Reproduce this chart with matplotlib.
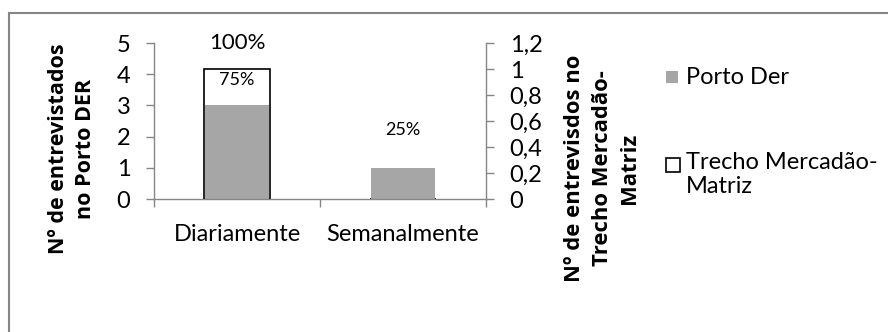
import matplotlib
matplotlib.use('Agg')
import matplotlib.pyplot as plt
from matplotlib.patches import Rectangle

plt.rcParams['font.family'] = ['Lato', 'DejaVu Sans']

# dados
categorias = ['Diariamente', 'Semanalmente']
porto_der = [3, 1]
trecho_mercadao = [1, 0]
rotulos_porto = ['75%', '25%']
rotulos_trecho = ['100%', '']
series = ['Porto Der', 'Trecho Mercadão-\nMatriz']

cinza = '#a6a6a6'
eixo = '#868686'

W, H = 888, 332
fig = plt.figure(figsize=(W / 100, H / 100), dpi=100)

def px(x, y):
    return x / W, 1 - y / H

# moldura do gráfico
fig.patches.append(Rectangle(px(9, 345), (890 - 9) / W, (345 - 13) / H,
                             transform=fig.transFigure, fill=False,
                             edgecolor=eixo, linewidth=1.5))

x0, y0 = px(154, 199)
x1, y1 = px(486, 43)
ax1 = fig.add_axes([x0, y0, x1 - x0, y1 - y0])
ax2 = ax1.twinx()
ax1.set_zorder(ax2.get_zorder() + 1)
ax1.patch.set_visible(False)

pos = list(range(len(categorias)))

ax2.bar(pos, trecho_mercadao, width=0.4, color='white', edgecolor='black',
        linewidth=1.2)
ax1.bar(pos, porto_der, width=0.385, color=cinza)

ax1.set_xlim(-0.5, 1.5)
ax1.set_ylim(0, 5)
ax2.set_ylim(0, 1.2)

ax1.set_yticks(range(0, 6))
ax2.set_yticks([0, 0.2, 0.4, 0.6, 0.8, 1.0, 1.2])
ax2.set_yticklabels(['0', '0,2', '0,4', '0,6', '0,8', '1', '1,2'])

ax1.set_xticks(pos)
ax1.set_xticklabels(categorias)
ax1.set_xticks([-0.5, 0.5, 1.5], minor=True)
ax1.tick_params(axis='x', which='major', length=0, pad=18, labelsize=17)
ax1.tick_params(axis='x', which='minor', length=6, color=eixo, width=1)
ax1.tick_params(axis='y', length=6, color=eixo, width=1, pad=11, labelsize=17)
ax2.tick_params(axis='y', length=6, color=eixo, width=1, pad=11, labelsize=17)

for a in (ax1, ax2):
    for s in a.spines.values():
        s.set_color(eixo)
        s.set_linewidth(1)
    a.spines['top'].set_visible(False)
ax1.spines['right'].set_visible(False)
ax2.spines['left'].set_visible(False)
ax2.spines['bottom'].set_visible(False)

# rótulos de dados
for x, v, t, off in zip(pos, porto_der, rotulos_porto, [18, 27]):
    ax1.annotate(t, (x, v), xytext=(0, off), textcoords='offset points',
                 ha='center', va='center', fontsize=13)
for x, v, t in zip(pos, trecho_mercadao, rotulos_trecho):
    if t:
        ax2.annotate(t, (x, v), xytext=(0, 19), textcoords='offset points',
                     ha='center', va='center', fontsize=16)

# títulos dos eixos
titulo = dict(rotation=90, ha='center', va='center', fontweight='bold',
              family=['Open Sans', 'DejaVu Sans'], multialignment='center')
fig.text(*px(72, 149), 'Nº de entrevistados\nno Porto DER', fontsize=15.5,
         linespacing=1.4, **titulo)
fig.text(*px(602, 168), 'Nº de entrevisdos no\nTrecho Mercadão-\nMatriz',
         fontsize=15.8, linespacing=1.4, **titulo)

# legenda
fig.patches.append(Rectangle(px(666, 83), 12 / W, 12 / H,
                             transform=fig.transFigure, facecolor=cinza,
                             edgecolor='none'))
fig.patches.append(Rectangle(px(666, 172), 14 / W, 14 / H,
                             transform=fig.transFigure, facecolor='white',
                             edgecolor='black', linewidth=1.2))
fig.text(*px(686, 78), series[0], ha='left', va='center', fontsize=17)
fig.text(*px(686, 152), series[1], ha='left', va='top', fontsize=17,
         linespacing=1.2)

fig.savefig('out.png', dpi=100)
